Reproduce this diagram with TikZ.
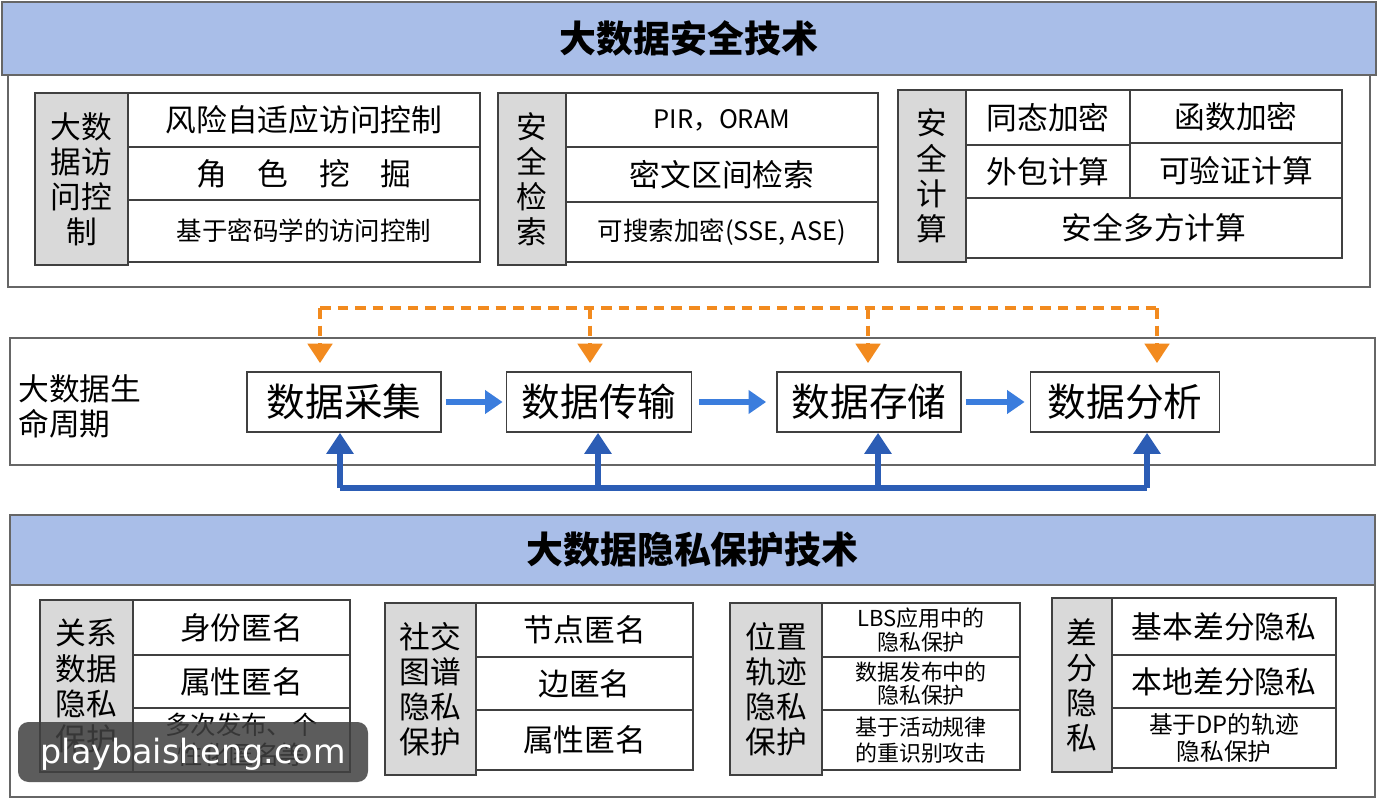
\documentclass[tikz,border=0pt]{standalone}
\usepackage{fontspec}
\setmainfont{Noto Sans CJK SC}
\newfontfamily\wmfont{DejaVu Sans}
\usetikzlibrary{fit,arrows.meta}
\definecolor{hdr}{HTML}{A9BEE8}
\definecolor{lab}{HTML}{D9D9D9}
\definecolor{org}{HTML}{F28A1E}
\definecolor{blu}{HTML}{3B7DDD}
\definecolor{dblu}{HTML}{2C5DB5}
\newcommand\fA{\fontsize{17.5}{21}\selectfont}
\newcommand\fL{\fontsize{17.5}{20}\selectfont}
\newcommand\fS{\fontsize{14.5}{17}\selectfont}
\newcommand\fT{\bfseries\fontsize{21}{25}\selectfont}
\tikzset{
 box/.style={draw=black!75, line width=1pt, inner sep=0pt, align=center},
 cell/.style={box, fill=white},
 lab/.style={box, fill=lab, line width=1.4pt},
 panel/.style={draw=black!60, line width=1pt, fill=white, inner sep=0pt},
 head/.style={draw=black!60, line width=1pt, fill=hdr, inner sep=0pt},
 life/.style={box, fill=white, font=\fontsize{22}{25}\selectfont},
 bar/.style={blu, line width=3pt, -{Triangle[width=13pt,length=10pt]}},
 oarr/.style={org, line width=1.8pt, dashed, dash pattern=on 6pt off 4pt, -{Triangle[width=14pt,length=11pt]}},
 barr/.style={dblu, line width=3pt, -{Triangle[width=15pt,length=12pt]}},
}
\begin{document}
\begin{tikzpicture}[x=0.02cm,y=-0.02cm]
\useasboundingbox (0,0) rectangle (1378,800);
\fill[white] (0,0) rectangle (1378,800);
% top
\node[head, fit={(2,2)(1376,75)}] (h1) {};
\node[font=\fT] at (h1.center) {大数据安全技术};
\node[panel, fit={(8,75)(1370,287)}] (p1) {};
\node[lab, fit={(35,93)(128,265)}] (l1) {}; \node[font=\fL, align=center] at (l1.center) {大数\\据访\\问控\\制};
\node[cell, fit={(128,93)(480,147)}] (a1) {}; \node[font=\fA] at (a1.center) {风险自适应访问控制};
\node[cell, fit={(128,147)(480,200)}] (a2) {}; \node[font=\fA] at (a2.center) {角\quad 色\quad 挖\quad 掘};
\node[cell, fit={(128,200)(480,262)}] (a3) {}; \node[font=\fS] at (a3.center) {基于密码学的访问控制};
\node[lab, fit={(498,93)(566,265)}] (l2) {}; \node[font=\fL, align=center] at (l2.center) {安\\全\\检\\索};
\node[cell, fit={(566,93)(878,147)}] (b1) {}; \node[font=\fS] at (b1.center) {PIR，ORAM};
\node[cell, fit={(566,147)(878,202)}] (b2) {}; \node[font=\fA] at (b2.center) {密文区间检索};
\node[cell, fit={(566,202)(878,262)}] (b3) {}; \node[font=\fS] at (b3.center) {可搜索加密(SSE, ASE)};
\node[lab, fit={(898,90)(966,262)}] (l3) {}; \node[font=\fL, align=center] at (l3.center) {安\\全\\计\\算};
\node[cell, fit={(966,90)(1130,145)}] (c1) {}; \node[font=\fA] at (c1.center) {同态加密};
\node[cell, fit={(1130,90)(1342,143)}] (c2) {}; \node[font=\fA] at (c2.center) {函数加密};
\node[cell, fit={(966,145)(1130,198)}] (c3) {}; \node[font=\fA] at (c3.center) {外包计算};
\node[cell, fit={(1130,143)(1342,198)}] (c4) {}; \node[font=\fA] at (c4.center) {可验证计算};
\node[cell, fit={(966,198)(1342,258)}] (c5) {}; \node[font=\fA] at (c5.center) {安全多方计算};
% middle
\node[panel, fit={(10,338)(1375,465)}] (p2) {};
\node[font=\fL, align=left, anchor=west, inner sep=0pt] (lc) at (18,406) {大数据生\\命周期};
\node[life, minimum width=194*0.02cm, minimum height=60*0.02cm] (s1) at (344,402) {数据采集};
\node[life, minimum width=185*0.02cm, minimum height=60*0.02cm] (s2) at (599,402) {数据传输};
\node[life, minimum width=184*0.02cm, minimum height=60*0.02cm] (s3) at (869,402) {数据存储};
\node[life, minimum width=189*0.02cm, minimum height=60*0.02cm] (s4) at (1125,402) {数据分析};
\draw[bar] ([xshift=0.08cm]s1.east) -- ([xshift=-0.06cm]s2.west);
\draw[bar] ([xshift=0.14cm]s2.east) -- ([xshift=-0.2cm]s3.west);
\draw[bar] ([xshift=0.08cm]s3.east) -- ([xshift=-0.1cm]s4.west);
\coordinate (o1) at (320,308); \coordinate (o2) at (590,308);
\coordinate (o3) at (868,308); \coordinate (o4) at (1157,308);
\draw[org, line width=1.8pt, dash pattern=on 6pt off 4pt] (o1) -- (o4);
\foreach \i in {1,2,3,4} \draw[oarr] (o\i) -- ++(0,55);
\coordinate (q1) at (340,488); \coordinate (q2) at (598,488);
\coordinate (q3) at (878,488); \coordinate (q4) at (1147,488);
\draw[dblu, line width=3pt] (q1) -- (q4);
\draw[barr] (q1) -- (q1 |- s1.south);
\draw[barr] (q2) -- (q2 |- s2.south);
\draw[barr] (q3) -- (q3 |- s3.south);
\draw[barr] (q4) -- (q4 |- s4.south);
% bottom
\node[head, fit={(10,515)(1375,585)}] (h2) {};
\node[font=\fT] at (h2.center) {大数据隐私保护技术};
\node[panel, fit={(10,585)(1375,797)}] (p3) {};
\node[lab, fit={(40,600)(133,772)}] (m0) {}; \node[font=\fL, align=center] at (m0.center) {关系\\数据\\隐私\\保护};
\node[cell, fit={(133,600)(350,655)}] (m1) {}; \node[font=\fA] at (m1.center) {身份匿名};
\node[cell, fit={(133,655)(350,708)}] (m2) {}; \node[font=\fA] at (m2.center) {属性匿名};
\node[cell, fit={(133,708)(350,772)}] (m3) {}; \node[font=\fS, align=center] at (m3.center) {多次发布、个\\性化匿名等};
\node[lab, fit={(385,603)(476,775)}] (n0) {}; \node[font=\fL, align=center] at (n0.center) {社交\\图谱\\隐私\\保护};
\node[cell, fit={(476,603)(693,657)}] (n1) {}; \node[font=\fA] at (n1.center) {节点匿名};
\node[cell, fit={(476,657)(693,710)}] (n2) {}; \node[font=\fA] at (n2.center) {边匿名};
\node[cell, fit={(476,710)(693,770)}] (n3) {}; \node[font=\fA] at (n3.center) {属性匿名};
\node[lab, fit={(730,603)(822,775)}] (r0) {}; \node[font=\fL, align=center] at (r0.center) {位置\\轨迹\\隐私\\保护};
\node[cell, fit={(822,603)(1020,657)}] (r1) {}; \node[font=\fontsize{12.5}{13.5}\selectfont, align=center] at (r1.center) {LBS应用中的\\隐私保护};
\node[cell, fit={(822,657)(1020,710)}] (r2) {}; \node[font=\fontsize{12.5}{13.5}\selectfont, align=center] at (r2.center) {数据发布中的\\隐私保护};
\node[cell, fit={(822,710)(1020,770)}] (r3) {}; \node[font=\fontsize{12.5}{15}\selectfont, align=center] at (r3.center) {基于活动规律\\的重识别攻击};
\node[lab, fit={(1052,598)(1112,772)}] (d0) {}; \node[font=\fL, align=center] at (d0.center) {差\\分\\隐\\私};
\node[cell, fit={(1112,598)(1336,655)}] (d1) {}; \node[font=\fA] at (d1.center) {基本差分隐私};
\node[cell, fit={(1112,655)(1336,708)}] (d2) {}; \node[font=\fA] at (d2.center) {本地差分隐私};
\node[cell, fit={(1112,708)(1336,768)}] (d3) {}; \node[font=\fontsize{13.5}{15.5}\selectfont, align=center] at (d3.center) {基于DP的轨迹\\隐私保护};
% watermark
\fill[black!75, opacity=0.85, rounded corners=6pt] (18,722) rectangle (368,782);
\node[text=white, font=\wmfont\fontsize{19}{22}\selectfont] (wm) at (193,754) {playbaisheng.com};
\end{tikzpicture}
\end{document}
